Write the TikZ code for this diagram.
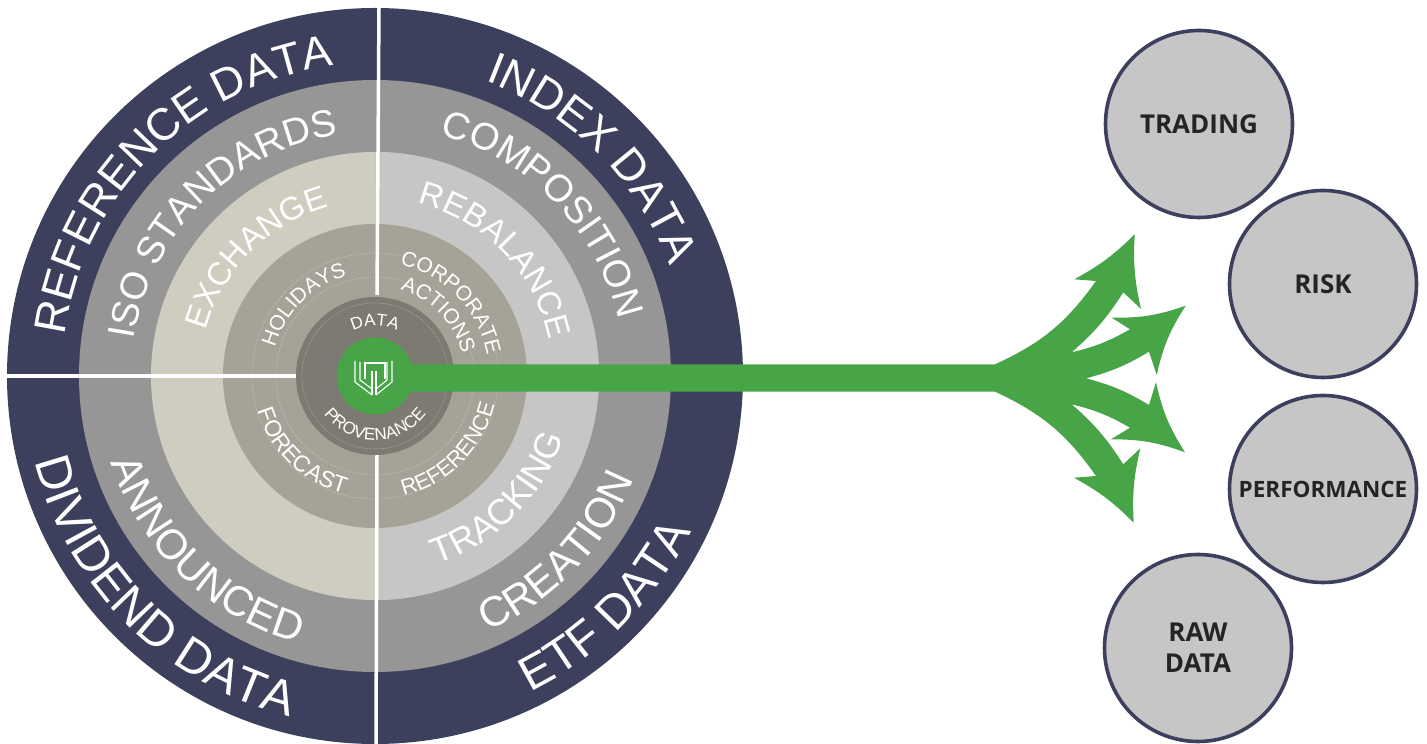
\documentclass[tikz,border=0pt]{standalone}
\usepackage{fontspec}
\setmainfont{Liberation Sans}
\newfontfamily\labelfont{Open Sans}
\usetikzlibrary{decorations.text}
\definecolor{navyring}{HTML}{3C405C}
\definecolor{greyring}{HTML}{969696}
\definecolor{beigering}{HTML}{CFCCC0}
\definecolor{lightring}{HTML}{C6C6C6}
\definecolor{stonering}{HTML}{A5A397}
\definecolor{darkring}{HTML}{7D7A72}
\definecolor{arrowgreen}{HTML}{47A447}
\definecolor{labelink}{HTML}{222426}
\tikzset{
  output/.style={circle, draw=navyring, line width=3.6pt, fill=lightring, minimum size=187pt, inner sep=0pt, align=center, text=labelink, font=\labelfont\bfseries\fontsize{26}{31}\selectfont},
  hairline/.style={draw=white, opacity=0.45, line width=0.6pt, densely dotted},
  logoline/.style={draw=white, line width=1.1pt},
  divider/.style={draw=white, line width=3.5pt}
}
% radius, start angle, end angle, font size, text
\newcommand{\ringlabel}[5]{
  \path[shift={(375pt,368pt)}, decorate, decoration={text along path, text color=white, text align=center,
    text={|\fontsize{#4}{#4}\selectfont|#5}}] (#2:#1 pt) arc[start angle=#2, end angle=#3, radius=#1 pt];
}
\begin{document}
\begin{tikzpicture}[x=1pt, y=1pt]
  \useasboundingbox (0,0) rectangle (1427,744);
  % rings
  \fill[navyring] (375,368) circle [radius=368];
  \fill[greyring] (375,368) circle [radius=296];
  \fill[beigering] (375,368) circle [radius=224];
  \fill[lightring] (375,592) arc[start angle=90, end angle=-90, radius=224] -- cycle;
  \fill[stonering] (375,368) circle [radius=152];
  % dividers
  \draw[divider] (379,736) -- (377,449);
  \draw[divider] (376,0) -- (377,289);
  \draw[divider] (7,368) -- (296,368);
  \fill[darkring] (375,368) circle [radius=79];
  % dotted circles
  \draw[hairline] (375,368) circle [radius=123];
  \draw[hairline] (375,368) circle [radius=99];
  \draw[hairline] (375,368) circle [radius=73];
  % arrow
  \fill[arrowgreen] (375,379.7) -- (995,379.7) to[bend right=15] (1096,463) -- (1074.3,464.7)
    to[bend right=8] (1134.7,509.7) to[bend right=8] (1141,435) -- (1123.3,451.7)
    to[bend left=8] (1071.7,391.7) to[bend right=8] (1130,414.7) -- (1111.7,426.3)
    to[bend right=10] (1185.7,438.3) to[bend right=10] (1156.7,369) -- (1149,392.3)
    to[bend left=8] (1086,365.7) to[bend left=8] (1149,339) -- (1156,361.7)
    to[bend right=10] (1185,291.7) to[bend right=10] (1111,304.7) -- (1130,316.3)
    to[bend right=8] (1071.7,339.7) to[bend left=8] (1123.3,279.7) -- (1140.3,295.7)
    to[bend right=8] (1133.7,221.3) to[bend right=8] (1074,266.3) -- (1096,268)
    to[bend right=15] (995,352.3) -- (375,352.3) -- cycle;
  \node[circle, fill=arrowgreen, minimum size=77pt, inner sep=0pt] (hub) at (375,368) {};
  % logo
  \draw[logoline] (355,383) -- (355,362) -- (372,349);
  \draw[logoline] (360,382) -- (360,364) -- (372,355);
  \draw[logoline] (365,365) -- (365,381) -- (385,381) -- (385,365);
  \draw[logoline] (392,383) -- (392,362) -- (376,349);
  \draw[logoline] (387,382) -- (387,364) -- (376,355);
  \draw[logoline] (372,349) -- (372,373);
  \draw[logoline] (376,349) -- (376,373);
  % outer labels
  \ringlabel{313}{190}{80}{45}{REFERENCE DATA}
  \ringlabel{315}{100}{-10}{45}{INDEX DATA}
  \ringlabel{351}{170}{280}{49}{DIVIDEND DATA}
  \ringlabel{352}{-100}{10}{48}{ETF DATA}
  % second ring
  \ringlabel{244}{190}{80}{38}{ISO STANDARDS}
  \ringlabel{250}{99}{-11}{38}{COMPOSITION}
  \ringlabel{278}{171}{281}{42}{ANNOUNCED}
  \ringlabel{279}{-99}{11}{42}{CREATION}
  % third ring
  \ringlabel{175}{190}{80}{32.5}{EXCHANGE}
  \ringlabel{178}{99}{-11}{33}{REBALANCE}
  \ringlabel{198}{-100}{10}{36}{TRACKING}
  % fourth ring
  \ringlabel{104}{190}{80}{21}{HOLIDAYS}
  \ringlabel{114}{99}{-11}{21}{CORPORATE}
  \ringlabel{90}{99}{-11}{21}{ACTIONS}
  \ringlabel{122}{171}{281}{23}{FORECAST}
  \ringlabel{123}{-100}{10}{22}{REFERENCE}
  % centre
  \ringlabel{50}{150}{30}{17}{DATA}
  \ringlabel{64}{190}{350}{17}{PROVENANCE}
  % outputs
  \node[output] (trading) at (1199,620) {TRADING};
  \node[output] (risk) at (1323,460) {RISK};
  \node[output, font=\labelfont\bfseries\fontsize{22.5}{28}\selectfont] (performance) at (1323,255) {PERFORMANCE};
  \node[output] (rawdata) at (1198,96) {RAW\\DATA};
\end{tikzpicture}
\end{document}
